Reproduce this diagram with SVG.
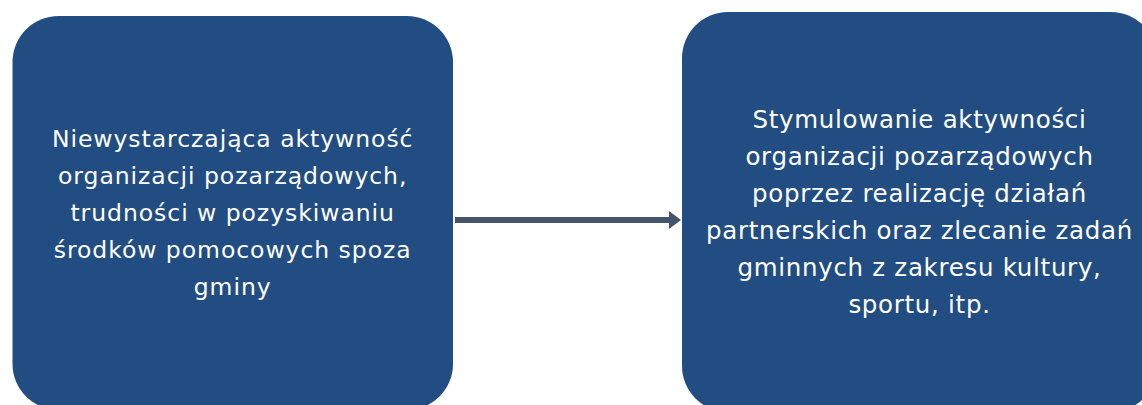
<svg xmlns="http://www.w3.org/2000/svg" width="1142" height="405" viewBox="0 0 1142 405">
<style>
.box{fill:#224D82;}
.t{font-family:"DejaVu Sans",Verdana,sans-serif;fill:#FFFFFF;text-anchor:middle;}
.l{font-size:23.5px;letter-spacing:0.95px;}
.r{font-size:24.5px;letter-spacing:0.7px;}
.conn{stroke:#44546A;stroke-width:6;fill:none;}
</style>
<defs>
<marker id="ah" markerUnits="userSpaceOnUse" markerWidth="12" markerHeight="18" refX="0" refY="9" orient="auto">
<path d="M0,0 L12,9 L0,18 Z" fill="#44546A"/>
</marker>
</defs>
<rect width="1142" height="405" fill="#FFFFFF"/>
<g id="node1">
<rect class="box" x="12.5" y="16" width="440.5" height="394" rx="46" ry="46"/>
<text class="t l" x="232.7" y="147">Niewystarczająca aktywność</text>
<text class="t l" x="232.7" y="184">organizacji pozarządowych,</text>
<text class="t l" x="232.7" y="221">trudności w pozyskiwaniu</text>
<text class="t l" x="232.7" y="258">środków pomocowych spoza</text>
<text class="t l" x="232.7" y="295">gminy</text>
</g>
<g id="node2">
<rect class="box" x="682" y="12" width="475" height="400" rx="46" ry="46"/>
<text class="t r" x="919.5" y="128">Stymulowanie aktywności</text>
<text class="t r" x="919.5" y="165">organizacji pozarządowych</text>
<text class="t r" x="919.5" y="202">poprzez realizację działań</text>
<text class="t r" x="919.5" y="239">partnerskich oraz zlecanie zadań</text>
<text class="t r" x="919.5" y="276">gminnych z zakresu kultury,</text>
<text class="t r" x="919.5" y="313">sportu, itp.</text>
</g>
<g id="connectors">
<line class="conn" x1="455" y1="220" x2="669" y2="220" marker-end="url(#ah)"/>
</g>
</svg>
